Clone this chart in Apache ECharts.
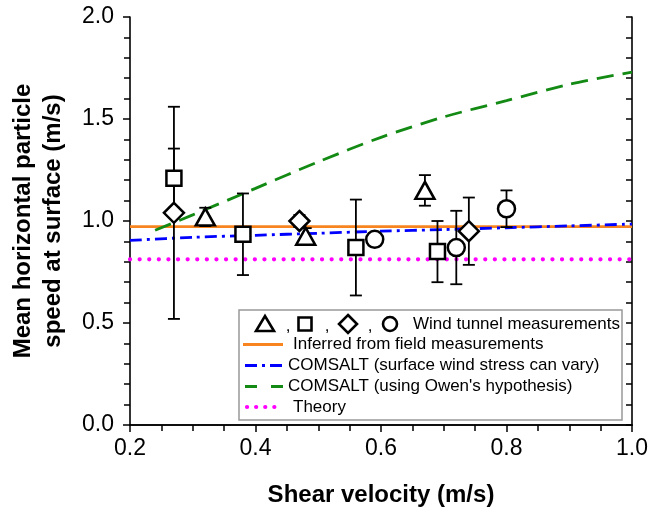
<!DOCTYPE html>
<html>
<head>
<meta charset="utf-8">
<script src="https://cdn.jsdelivr.net/npm/echarts@6/dist/echarts.min.js"></script>
<style>html,body{margin:0;padding:0;background:#fff}#c{width:651px;height:512px}</style>
</head>
<body>
<div id="c"></div>
<script>
// Wind tunnel measurements: x (shear velocity), y (mean speed), e (error half-width)
const triX = [0.32, 0.48, 0.67];
const triY = [1.02, 0.925, 1.15];
const triE = [0.045, 0.04, 0.075];
const sqX = [0.27, 0.38, 0.56, 0.69];
const sqY = [1.21, 0.935, 0.87, 0.85];
const sqE = [0.145, 0.2, 0.235, 0.15];
const diaX = [0.27, 0.47, 0.74];
const diaY = [1.04, 1.0, 0.95];
const diaE = [0.52, 0.03, 0.165];
const cirX = [0.59, 0.72, 0.80];
const cirY = [0.91, 0.87, 1.06];
const cirE = [0.03, 0.18, 0.09];
// Model / reference curves
const fieldX = [0.2, 1.0];
const fieldY = [0.972, 0.972];
const comsaltX = [0.2, 0.3, 0.4, 0.5, 0.6, 0.7, 0.8, 0.9, 1.0];
const comsaltY = [0.905, 0.92, 0.93, 0.94, 0.95, 0.958, 0.967, 0.976, 0.985];
const owenX = [0.24, 0.3, 0.4, 0.5, 0.6, 0.7, 0.8, 0.9, 1.0];
const owenY = [0.955, 1.03, 1.16, 1.29, 1.41, 1.51, 1.59, 1.67, 1.73];
const theoryX = [0.2, 1.0];
const theoryY = [0.812, 0.812];
const xTicks = [0.2, 0.4, 0.6, 0.8, 1.0];
const yTicks = [0.0, 0.5, 1.0, 1.5, 2.0];
const legendLabels = ['Wind tunnel measurements', 'Inferred from field measurements',
  'COMSALT (surface wind stress can vary)', "COMSALT (using Owen's hypothesis)", 'Theory'];

const FONT = '"Liberation Sans", Arial, sans-serif';
const zip = (xs, ys) => xs.map((x, i) => [x, ys[i]]);
const zip3 = (xs, ys, es) => xs.map((x, i) => [x, ys[i], es[i]]);
const errData = [].concat(zip3(triX, triY, triE), zip3(sqX, sqY, sqE), zip3(diaX, diaY, diaE), zip3(cirX, cirY, cirE));

const chart = echarts.init(document.getElementById('c'), null, {renderer: 'canvas'});

function errorBar(params, api) {
  const x = api.value(0), y = api.value(1), e = api.value(2);
  const top = api.coord([x, y + e]);
  const bot = api.coord([x, y - e]);
  const w = 6;
  const st = {stroke: '#000', lineWidth: 1.8};
  return {type: 'group', children: [
    {type: 'line', shape: {x1: top[0], y1: top[1], x2: bot[0], y2: bot[1]}, style: st},
    {type: 'line', shape: {x1: top[0] - w, y1: top[1], x2: top[0] + w, y2: top[1]}, style: st},
    {type: 'line', shape: {x1: bot[0] - w, y1: bot[1], x2: bot[0] + w, y2: bot[1]}, style: st}
  ]};
}

const markerStyle = {color: '#fff', borderColor: '#000', borderWidth: 2.5, opacity: 1};
const axisLineStyle = {color: '#000', width: 1.6};

// legend graphics
const LX = 239, LY = 310;
const rows = [324, 344.5, 365.5, 386.5, 407];
const g = [];
g.push({type: 'rect', shape: {x: LX, y: LY, width: 383, height: 110}, style: {fill: '#fff', stroke: '#999', lineWidth: 1.5}, z: 10});
const bs = {fill: '#fff', stroke: '#000', lineWidth: 2.6};
g.push({type: 'polygon', shape: {points: [[256, 331], [274, 331], [265, 316]]}, style: bs, z: 11});
g.push({type: 'rect', shape: {x: 298.5, y: 317.5, width: 13, height: 13}, style: bs, z: 11});
g.push({type: 'polygon', shape: {points: [[348, 315], [357, 324], [348, 333], [339, 324]]}, style: bs, z: 11});
g.push({type: 'circle', shape: {cx: 390, cy: 324, r: 7}, style: bs, z: 11});
[288, 327, 370].forEach(cx => g.push({type: 'text', x: cx, y: rows[0] + 2, style: {text: ',', font: '17px ' + FONT, fill: '#000', align: 'center', verticalAlign: 'middle'}, z: 11}));
g.push({type: 'line', shape: {x1: 243, y1: rows[1], x2: 283, y2: rows[1]}, style: {stroke: '#F7841E', lineWidth: 2.8}, z: 11});
g.push({type: 'line', shape: {x1: 245, y1: rows[2], x2: 283, y2: rows[2]}, style: {stroke: '#0000FF', lineWidth: 2.8, lineDash: [12, 5, 3, 5]}, z: 11});
g.push({type: 'line', shape: {x1: 245, y1: rows[3], x2: 283, y2: rows[3]}, style: {stroke: '#138A13', lineWidth: 2.8, lineDash: [12, 14]}, z: 11});
g.push({type: 'line', shape: {x1: 247, y1: rows[4], x2: 283, y2: rows[4]}, style: {stroke: '#FF00FF', lineWidth: 4.2, lineDash: [0.1, 9], lineCap: 'round'}, z: 11});
const textX = [413, 293, 288, 288, 293];
legendLabels.forEach((t, i) => g.push({type: 'text', x: textX[i], y: rows[i], style: {text: t, font: '17px ' + FONT, fill: '#000', align: 'left', verticalAlign: 'middle'}, z: 11}));

const option = {
  backgroundColor: '#fff',
  animation: false,
  grid: {left: 127, right: 19, top: 17, bottom: 86},
  xAxis: [{
    type: 'value', min: 0.2, max: 1.0, interval: 0.2, position: 'bottom',
    name: 'Shear velocity (m/s)', nameLocation: 'middle', nameGap: 58,
    nameTextStyle: {fontFamily: FONT, fontSize: 24, fontWeight: 'bold', color: '#000'},
    axisLine: {show: true, lineStyle: axisLineStyle},
    axisTick: {show: true, inside: false, length: 7, lineStyle: {color: '#000', width: 1.5}},
    minorTick: {show: true, splitNumber: 4, length: 6, lineStyle: {color: '#000', width: 1.5}},
    axisLabel: {margin: 12, fontFamily: FONT, fontSize: 23, color: '#000',
      formatter: v => (xTicks.some(t => Math.abs(t - v) < 1e-6) ? v.toFixed(1) : '')},
    splitLine: {show: false}, minorSplitLine: {show: false}
  }, {
    type: 'value', min: 0.2, max: 1.0, interval: 0.05, position: 'top',
    axisLine: {show: true, lineStyle: axisLineStyle},
    axisTick: {show: true, inside: true, length: 5, lineStyle: {color: '#000', width: 1.5}},
    axisLabel: {show: false}, splitLine: {show: false}
  }],
  yAxis: [{
    type: 'value', min: 0, max: 2.0, interval: 0.5, position: 'left',
    name: 'Mean horizontal particle\nspeed at surface (m/s)', nameLocation: 'middle', nameGap: 62,
    nameTextStyle: {fontFamily: FONT, fontSize: 24, fontWeight: 'bold', color: '#000', lineHeight: 30},
    axisLine: {show: true, lineStyle: axisLineStyle},
    axisTick: {show: true, inside: false, length: 7, lineStyle: {color: '#000', width: 1.5}},
    minorTick: {show: true, splitNumber: 5, length: 6, lineStyle: {color: '#000', width: 1.5}},
    axisLabel: {margin: 16, fontFamily: FONT, fontSize: 23, color: '#000',
      formatter: v => (yTicks.some(t => Math.abs(t - v) < 1e-6) ? v.toFixed(1) : '')},
    splitLine: {show: false}, minorSplitLine: {show: false}
  }, {
    type: 'value', min: 0, max: 2.0, interval: 0.1, position: 'right',
    axisLine: {show: true, lineStyle: axisLineStyle},
    axisTick: {show: true, inside: true, length: 6, lineStyle: {color: '#000', width: 1.5}},
    axisLabel: {show: false}, splitLine: {show: false}
  }],
  series: [
    {type: 'line', name: legendLabels[4], data: zip(theoryX, theoryY), symbol: 'none', z: 2,
      lineStyle: {color: '#FF00FF', width: 4.2, type: [0.1, 9.5], cap: 'round'}},
    {type: 'line', name: legendLabels[1], data: zip(fieldX, fieldY), symbol: 'none', z: 2,
      lineStyle: {color: '#F7841E', width: 2.8, type: 'solid'}},
    {type: 'line', name: legendLabels[2], data: zip(comsaltX, comsaltY), symbol: 'none', smooth: 0.3, z: 3,
      lineStyle: {color: '#0000FF', width: 2.8, type: [12, 5, 3, 5]}},
    {type: 'line', name: legendLabels[3], data: zip(owenX, owenY), symbol: 'none', smooth: 0.3, z: 3,
      lineStyle: {color: '#138A13', width: 2.8, type: [17, 9]}},
    {type: 'custom', name: 'error', data: errData, renderItem: errorBar, z: 4},
    {type: 'scatter', name: 'tri', data: zip(triX, triY), symbol: 'triangle', symbolSize: [19, 17], itemStyle: markerStyle, z: 5},
    {type: 'scatter', name: 'sq', data: zip(sqX, sqY), symbol: 'rect', symbolSize: 15, itemStyle: markerStyle, z: 5},
    {type: 'scatter', name: 'dia', data: zip(diaX, diaY), symbol: 'diamond', symbolSize: [20, 20], itemStyle: markerStyle, z: 5},
    {type: 'scatter', name: 'cir', data: zip(cirX, cirY), symbol: 'circle', symbolSize: 17, itemStyle: markerStyle, z: 5}
  ],
  graphic: g
};
chart.setOption(option);
</script>
</body>
</html>
